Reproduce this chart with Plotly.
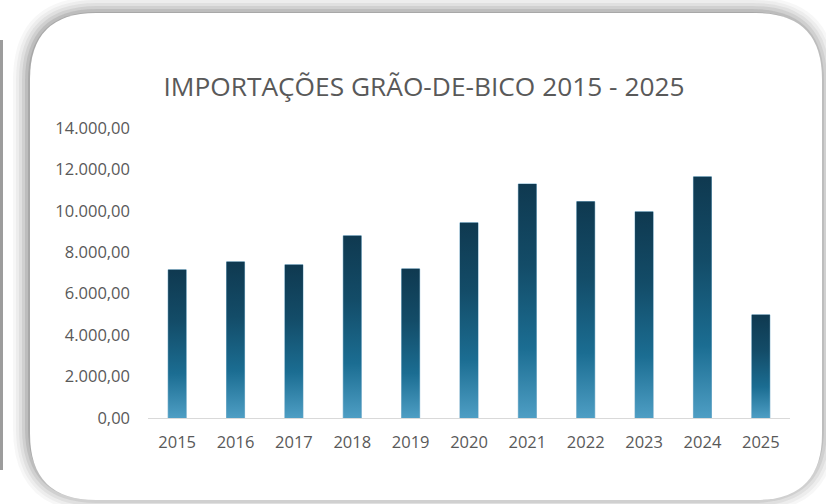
import plotly.graph_objects as go

years = ["2015", "2016", "2017", "2018", "2019", "2020", "2021", "2022", "2023", "2024", "2025"]
imports = [7160, 7540, 7400, 8800, 7200, 9430, 11300, 10450, 9960, 11650, 4980]
title_text = "IMPORTAÇÕES GRÃO-DE-BICO 2015 - 2025"

W, H = 826, 504
L, R, T, B = 148, 36, 128, 86
PW, PH = W - L - R, H - T - B
BAR_HALF = 0.155

def px(x):
    return (x - L) / PW

def py(y):
    return (H - B - y) / PH

def rrect(x0, y0, x1, y1, r):
    def P(x, y):
        return f"{px(x):.5f},{py(y):.5f}"
    return (f"M {P(x0 + r, y0)} L {P(x1 - r, y0)} Q {P(x1, y0)} {P(x1, y0 + r)} "
            f"L {P(x1, y1 - r)} Q {P(x1, y1)} {P(x1 - r, y1)} "
            f"L {P(x0 + r, y1)} Q {P(x0, y1)} {P(x0, y1 - r)} "
            f"L {P(x0, y0 + r)} Q {P(x0, y0)} {P(x0 + r, y0)} Z")

fig = go.Figure()

grad = [[0.0, "#4e9ec4"], [0.3, "#1b6d92"], [0.65, "#134c68"], [1.0, "#0f3950"]]
for i, v in enumerate(imports):
    fig.add_trace(go.Scatter(
        x=[i - BAR_HALF, i + BAR_HALF, i + BAR_HALF, i - BAR_HALF, i - BAR_HALF],
        y=[0, 0, v, v, 0],
        mode="lines", line=dict(width=0, color="rgba(0,0,0,0)"),
        fill="toself",
        fillgradient=dict(type="vertical", colorscale=grad),
        hoverinfo="skip", showlegend=False,
    ))

fig.add_trace(go.Bar(
    x=list(range(len(years))), y=imports, width=2 * BAR_HALF,
    marker=dict(color="rgba(0,0,0,0)", line=dict(color="#8dbad3", width=1)),
    customdata=years, hovertemplate="%{customdata}: %{y:,.2f}<extra></extra>",
    showlegend=False,
))

shapes = []
shapes.append(dict(type="rect", xref="paper", yref="paper", x0=px(0), x1=px(3), y0=py(470), y1=py(40),
                   fillcolor="#9c9c9c", line=dict(width=0), layer="below"))
for k, op in [(18, 0.04), (15, 0.05), (12, 0.07), (9, 0.09), (6, 0.12), (3, 0.16), (1, 0.22)]:
    shapes.append(dict(type="path", xref="paper", yref="paper",
                       path=rrect(30 - k + 1, 13 - k + 2, 822 + k - 4, 500 + k - 6, 66 + k),
                       fillcolor=f"rgba(60,60,60,{op})", line=dict(width=0), layer="below"))
shapes.append(dict(type="path", xref="paper", yref="paper", path=rrect(30, 13, 822, 500, 66),
                   fillcolor="white", line=dict(width=0), layer="below"))

TICKFONT = dict(family="Open Sans", size=16.5, color="#595959")

fig.update_layout(
    width=W, height=H,
    margin=dict(l=L, r=R, t=T, b=B),
    paper_bgcolor="white", plot_bgcolor="rgba(0,0,0,0)",
    separators=",.",
    shapes=shapes,
    title=dict(text=title_text, x=424 / W, xref="container", xanchor="center",
               y=1 - 87 / H, yref="container", yanchor="middle",
               font=dict(family="Open Sans", size=26.3, color="#595959")),
    xaxis=dict(range=[-0.5, len(years) - 0.5], tickvals=list(range(len(years))), ticktext=years,
               showgrid=False, zeroline=False, showline=True, linecolor="#d9d9d9", linewidth=1,
               ticks="", ticklabelstandoff=9, tickfont=TICKFONT, fixedrange=True),
    yaxis=dict(range=[0, 14000], tickvals=[0, 2000, 4000, 6000, 8000, 10000, 12000, 14000],
               tickformat=",.2f", showgrid=False, zeroline=False, showline=False, ticks="",
               ticklabelstandoff=17, tickfont=TICKFONT, fixedrange=True),
)

fig.write_html("out.html", config={"displayModeBar": False},
               post_script="document.body.style.margin='0';document.body.style.overflow='hidden';")
